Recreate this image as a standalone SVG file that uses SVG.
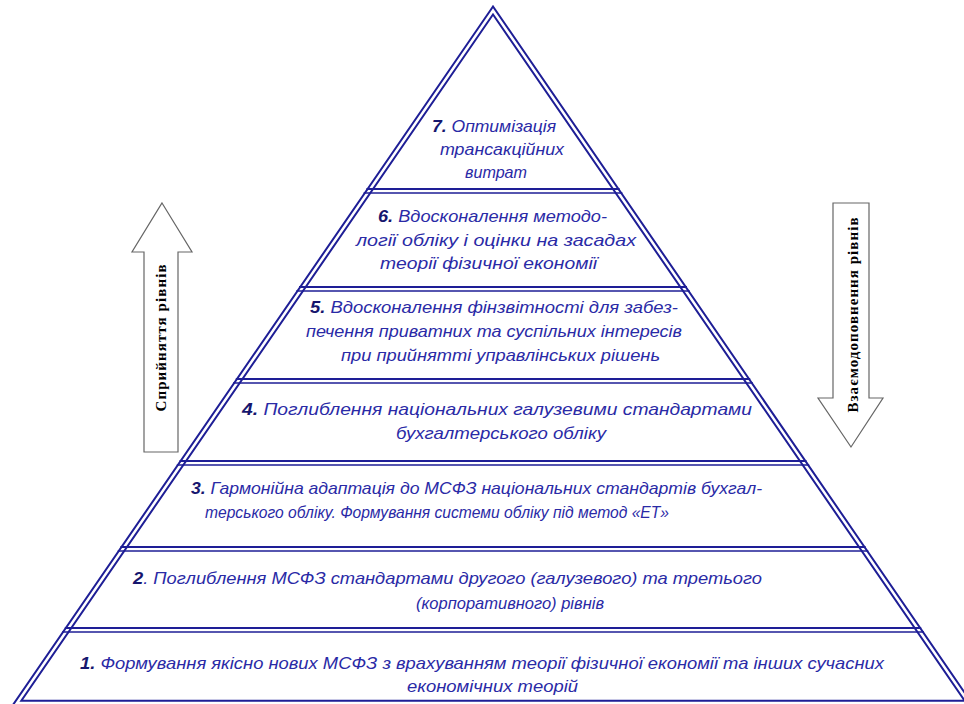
<svg xmlns="http://www.w3.org/2000/svg" width="964" height="704" viewBox="0 0 964 704">
  <style>
    .edge { fill: none; stroke: #1e1e96; stroke-width: 6.5; stroke-linejoin: miter; }
    .gap { fill: none; stroke: #ffffff; stroke-width: 2.5; stroke-linejoin: miter; }
    .div1 { stroke: #1e1e96; stroke-width: 2.2; }
    .div2 { stroke: #1e1e96; stroke-width: 1.6; }
    .t { font-family: "Liberation Sans", Arial, sans-serif; font-style: italic; font-size: 17px; fill: #2a2aa6; }
    .n { font-weight: bold; fill: #16166e; }
    .arrow { fill: #ffffff; stroke: #666666; stroke-width: 1.2; }
    .at { font-family: "Liberation Serif", "Times New Roman", serif; font-weight: bold; font-size: 15px; fill: #000000; }
  </style>
  <rect width="964" height="704" fill="#ffffff"/>

  <!-- pyramid outline: a wide blue stroke with a white core gives the double line -->
  <g id="pyramid">
    <path class="edge" d="M493,10.5 L17,703 L969,703 Z"/>
    <path class="gap" d="M493,10.5 L17,703 L969,703 Z"/>
  </g>

  <!-- double dividers between the tiers -->
  <g id="dividers">
    <line class="div1" x1="366.4" y1="189" x2="619.6" y2="189"/>
    <line class="div2" x1="363.6" y1="193" x2="622.4" y2="193"/>
    <line class="div1" x1="299" y1="287" x2="687" y2="287"/>
    <line class="div2" x1="296.3" y1="291" x2="689.7" y2="291"/>
    <line class="div1" x1="235.8" y1="379" x2="750.2" y2="379"/>
    <line class="div2" x1="233.1" y1="383" x2="752.9" y2="383"/>
    <line class="div1" x1="179.5" y1="461" x2="806.5" y2="461"/>
    <line class="div2" x1="176.8" y1="465" x2="809.2" y2="465"/>
    <line class="div1" x1="120.4" y1="547" x2="865.6" y2="547"/>
    <line class="div2" x1="117.7" y1="551" x2="868.3" y2="551"/>
    <line class="div1" x1="64.8" y1="628" x2="921.2" y2="628"/>
    <line class="div2" x1="62" y1="632" x2="924" y2="632"/>
  </g>

  <g id="tier7">
    <text class="t" x="432" y="132" textLength="124" lengthAdjust="spacingAndGlyphs"><tspan class="n">7.</tspan> Оптимізація</text>
    <text class="t" x="440" y="155" textLength="124" lengthAdjust="spacingAndGlyphs">трансакційних</text>
    <text class="t" x="465" y="178" textLength="62" lengthAdjust="spacingAndGlyphs">витрат</text>
  </g>

  <g id="tier6">
    <text class="t" x="378" y="222" textLength="229" lengthAdjust="spacingAndGlyphs"><tspan class="n">6.</tspan> Вдосконалення методо-</text>
    <text class="t" x="356" y="246" textLength="280" lengthAdjust="spacingAndGlyphs">логії обліку і оцінки на засадах</text>
    <text class="t" x="380" y="269" textLength="217" lengthAdjust="spacingAndGlyphs">теорії фізичної економії</text>
  </g>

  <g id="tier5">
    <text class="t" x="310" y="313" textLength="368" lengthAdjust="spacingAndGlyphs"><tspan class="n">5.</tspan> Вдосконалення фінзвітності для  забез-</text>
    <text class="t" x="306" y="337" textLength="376" lengthAdjust="spacingAndGlyphs">печення приватних та суспільних інтересів</text>
    <text class="t" x="341" y="361" textLength="319" lengthAdjust="spacingAndGlyphs">при прийнятті управлінських рішень</text>
  </g>

  <g id="tier4">
    <text class="t" x="242" y="415" textLength="510" lengthAdjust="spacingAndGlyphs"><tspan class="n">4.</tspan> Поглиблення національних галузевими стандартами</text>
    <text class="t" x="396" y="439" textLength="210" lengthAdjust="spacingAndGlyphs">бухгалтерського обліку</text>
  </g>

  <g id="tier3">
    <text class="t" x="191" y="494" textLength="571" lengthAdjust="spacingAndGlyphs"><tspan class="n">3.</tspan>  Гармонійна адаптація до МСФЗ національних стандартів бухгал-</text>
    <text class="t" x="205" y="518" textLength="464" lengthAdjust="spacingAndGlyphs">терського обліку. Формування системи обліку під метод «ЕТ»</text>
  </g>

  <g id="tier2">
    <text class="t" x="133" y="584" textLength="629" lengthAdjust="spacingAndGlyphs"><tspan class="n">2</tspan>. Поглиблення МСФЗ стандартами другого (галузевого) та третього</text>
    <text class="t" x="416" y="609" textLength="188" lengthAdjust="spacingAndGlyphs">(корпоративного) рівнів</text>
  </g>

  <g id="tier1">
    <text class="t" x="80" y="669" textLength="804" lengthAdjust="spacingAndGlyphs"><tspan class="n">1.</tspan> Формування якісно нових  МСФЗ з врахуванням теорії фізичної економії та інших сучасних</text>
    <text class="t" x="407" y="692" textLength="171" lengthAdjust="spacingAndGlyphs">економічних теорій</text>
  </g>

  <!-- side arrows -->
  <g id="arrow-up">
    <polygon class="arrow" points="162,203 192,252 178,252 178,452 144,452 144,252 132,252"/>
    <text class="at" transform="translate(166,338) rotate(-90)" text-anchor="middle" textLength="147" lengthAdjust="spacing">Сприйняття рівнів</text>
  </g>
  <g id="arrow-down">
    <polygon class="arrow" points="833,203 869,203 869,398 883,398 851,447 818,398 833,398"/>
    <text class="at" transform="translate(858,315) rotate(-90)" text-anchor="middle" textLength="195" lengthAdjust="spacing">Взаємодоповнення рівнів</text>
  </g>
</svg>
